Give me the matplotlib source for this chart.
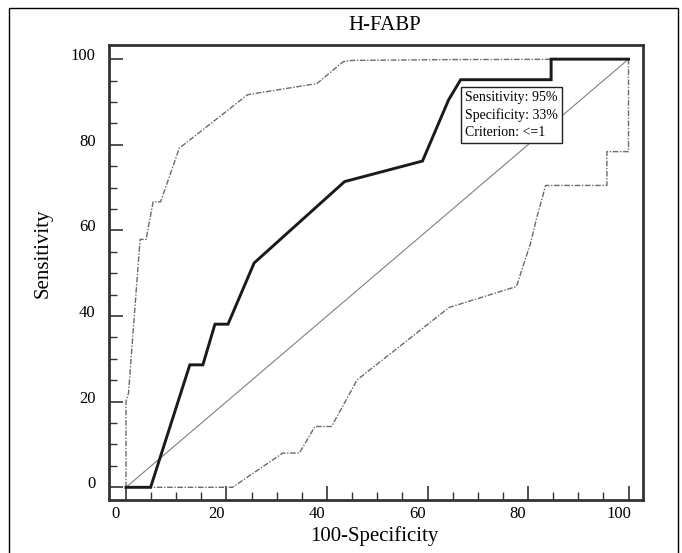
import matplotlib
matplotlib.use("Agg")
import matplotlib.pyplot as plt
import matplotlib.transforms as mtransforms
from matplotlib.patches import Rectangle

plt.rcParams['font.family'] = ['Liberation Serif', 'DejaVu Serif']

# ROC curve (100-Specificity, Sensitivity)
roc_x = [0, 4.9, 12.7, 15.3, 17.7, 20.3, 25.5, 43.5, 59.0, 64.2, 66.6, 84.6, 84.6, 100]
roc_y = [0, 0, 28.6, 28.6, 38.1, 38.1, 52.4, 71.4, 76.2, 90.5, 95.2, 95.2, 100, 100]

# upper confidence bound
upper_x = [0, 0, 0.5, 2.8, 4.0, 5.4, 6.9, 10.6, 24.2, 38.0, 43.2, 45.0, 65.0, 100]
upper_y = [0, 20, 22, 57.9, 57.9, 66.7, 66.7, 79.2, 91.7, 94.3, 99.4, 99.7, 99.9, 100]

# lower confidence bound
lower_x = [0, 21.2, 31.2, 34.5, 37.6, 40.9, 46.0, 64.3, 77.7, 80.5, 81.7, 83.5, 95.7, 95.7, 100, 100]
lower_y = [0, 0, 8.0, 8.0, 14.2, 14.2, 25.1, 42.0, 46.9, 57.0, 62.8, 70.5, 70.5, 78.4, 78.4, 100]

diag = [0, 100]
ticks = [0, 20, 40, 60, 80, 100]
info_lines = ["Sensitivity: 95%", "Specificity: 33%", "Criterion: <=1"]

fig = plt.figure(figsize=(6.82, 5.53), dpi=100)
ax = fig.add_axes([0.1594, 0.0958, 0.7828, 0.8228])

ax.plot(diag, diag, color='#808080', lw=0.8)
ax.plot(upper_x, upper_y, color='#6a6a6a', lw=1.0, linestyle=(0, (4, 1.2, 1, 1.2)))
ax.plot(lower_x, lower_y, color='#6a6a6a', lw=1.0, linestyle=(0, (4, 1.2, 1, 1.2)))
ax.plot(roc_x, roc_y, color='#1a1a1a', lw=2.1, solid_joinstyle='miter')

ax.set_xlim(-3.44, 102.8)
ax.set_ylim(-2.97, 103.3)

ax.set_xticks(ticks)
ax.set_yticks(ticks)
ax.set_xticks(range(0, 101, 5), minor=True)
ax.set_yticks(range(0, 101, 5), minor=True)
ax.tick_params(which='major', direction='in', length=10, width=1.2, color='#333333',
               labelsize=12, top=False, right=False)
ax.tick_params(which='minor', direction='in', length=6, width=1.0, color='#333333',
               top=False, right=False)
ax.tick_params(axis='y', pad=9.5)
ax.tick_params(axis='x', pad=4)

# labels in the source sit a little off their ticks
dx = mtransforms.ScaledTranslation(-10 / 100, 0, fig.dpi_scale_trans)
for lab in ax.get_xticklabels():
    lab.set_transform(lab.get_transform() + dx)
dy = mtransforms.ScaledTranslation(0, 5 / 100, fig.dpi_scale_trans)
for lab in ax.get_yticklabels():
    lab.set_transform(lab.get_transform() + dy)

for s in ax.spines.values():
    s.set_linewidth(2.0)
    s.set_color('#333333')

ax.text(67.4, 92.6, "\n".join(info_lines), fontsize=10, va='top', ha='left',
        linespacing=1.4,
        bbox=dict(boxstyle='square,pad=0.3', fc='white', ec='#222222', lw=1.0))

fig.text(385 / 682, 1 - 25 / 553, "H-FABP", fontsize=15, ha='center', va='center')
fig.text(374 / 682, 1 - 536 / 553, "100-Specificity", fontsize=15, ha='center', va='center')
fig.text(43 / 682, 1 - 253 / 553, "Sensitivity", fontsize=15, ha='center', va='center',
         rotation=90)

fig.patches.append(Rectangle((8.7 / 682, -0.02), (678 - 8.7) / 682, 1 - 7.7 / 553 + 0.02,
                             transform=fig.transFigure, fill=False, ec='black', lw=1.0))

fig.savefig("out.png", dpi=100)
